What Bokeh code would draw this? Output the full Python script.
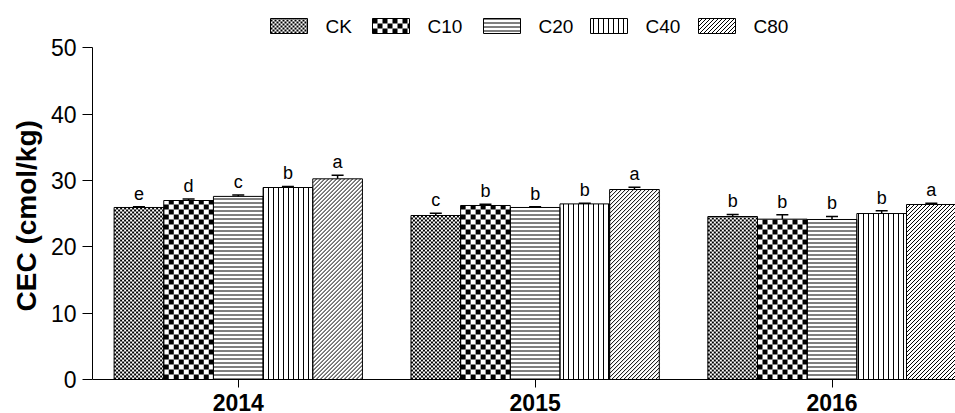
import math
from bokeh.plotting import figure
from bokeh.models import (ColumnDataSource, Range1d, FixedTicker, Whisker, TeeHead, Title)
from bokeh.core.properties import value
from bokeh.embed import file_html
from bokeh.resources import INLINE

years = ["2014", "2015", "2016"]
treatments = ["CK", "C10", "C20", "C40", "C80"]

ck_mean = [25.93, 24.72, 24.57]
c10_mean = [26.98, 26.23, 24.17]
c20_mean = [27.60, 25.93, 24.12]
c40_mean = [28.94, 26.47, 25.02]
c80_mean = [30.25, 28.64, 26.38]

ck_err = [0.10, 0.35, 0.30]
c10_err = [0.22, 0.20, 0.65]
c20_err = [0.20, 0.10, 0.45]
c40_err = [0.16, 0.10, 0.41]
c80_err = [0.55, 0.35, 0.20]

ck_sig = ["e", "c", "b"]
c10_sig = ["d", "b", "b"]
c20_sig = ["c", "b", "b"]
c40_sig = ["b", "b", "b"]
c80_sig = ["a", "a", "a"]

y_ticks = [0, 10, 20, 30, 40, 50]

means = [ck_mean, c10_mean, c20_mean, c40_mean, c80_mean]
errs = [ck_err, c10_err, c20_err, c40_err, c80_err]
sigs = [ck_sig, c10_sig, c20_sig, c40_sig, c80_sig]

FONT = "Liberation Sans"
BAR_W = 0.1673

# ---- layout (pixels) ----
W, H = 955, 413
FRAME_L = 92          # frame left edge
ZERO_PX = 379         # screen row of y = 0
Y_PX = 6.634          # pixels per y unit
X0 = -0.491           # x range start
X1 = 2.416            # x range end
X_PX = (W - FRAME_L) / (X1 - X0)

# legend layout (pixels)
LEG_LEFT = [270, 372, 483, 590, 698]
LEG_SW_W, LEG_TOP, LEG_BOT, LEG_GAP = 37, 18, 33, 18


def px_x(px):
    return X0 + (px - FRAME_L) / X_PX


def px_y(py):
    return (ZERO_PX - py) / Y_PX


def checker(rects, cell_px):
    cw, ch = cell_px / X_PX, cell_px / Y_PX
    L, R, B, T = [], [], [], []
    for (x0, x1, y0, y1) in rects:
        nx = int(math.ceil((x1 - x0) / cw - 1e-9))
        ny = int(math.ceil((y1 - y0) / ch - 1e-9))
        for j in range(ny):
            for i in range(nx):
                if (i + j) % 2 == 0:
                    L.append(x0 + i * cw)
                    R.append(min(x0 + (i + 1) * cw, x1))
                    B.append(y0 + j * ch)
                    T.append(min(y0 + (j + 1) * ch, y1))
    return dict(left=L, right=R, bottom=B, top=T)


def diagonals(rects, step_px):
    xs0, ys0, xs1, ys1 = [], [], [], []
    for (x0, x1, y0, y1) in rects:
        wpx = (x1 - x0) * X_PX
        hpx = (y1 - y0) * Y_PX
        c = -hpx
        while c < wpx:
            ua, ub = max(0.0, c), min(wpx, c + hpx)
            if ub > ua:
                xs0.append(x0 + ua / X_PX)
                ys0.append(y0 + (ua - c) / Y_PX)
                xs1.append(x0 + ub / X_PX)
                ys1.append(y0 + (ub - c) / Y_PX)
            c += step_px
    return dict(x0=xs0, y0=ys0, x1=xs1, y1=ys1)


p = figure(width=W, height=H, x_range=Range1d(X0, X1),
           y_range=Range1d(-(H - ZERO_PX) / Y_PX, ZERO_PX / Y_PX),
           output_backend="svg", toolbar_location=None,
           min_border_left=FRAME_L, min_border_right=0, min_border_top=0, min_border_bottom=0)
p.outline_line_color = None
p.xgrid.visible = False
p.ygrid.visible = False
p.background_fill_color = "white"

line_hatch = {2: dict(hatch_pattern="horizontal_line", hatch_scale=4, hatch_weight=1),
              3: dict(hatch_pattern="vertical_line", hatch_scale=5, hatch_weight=1)}

for i, name in enumerate(treatments):
    xs = [g + (i - 2) * BAR_W for g in range(len(years))]
    top = means[i]
    upper = [m + e for m, e in zip(means[i], errs[i])]
    bar_rects = [(x - BAR_W / 2, x + BAR_W / 2, 0.0, t) for x, t in zip(xs, top)]
    sw = (px_x(LEG_LEFT[i]), px_x(LEG_LEFT[i] + LEG_SW_W), px_y(LEG_BOT), px_y(LEG_TOP))
    rects = bar_rects + [sw]

    if i in (0, 1):
        p.quad(source=ColumnDataSource(checker(rects, 2 if i == 0 else 5)),
               left="left", right="right", bottom="bottom", top="top",
               fill_color="black", line_color=None)
    elif i == 4:
        p.segment(source=ColumnDataSource(diagonals(rects, 4)),
                  x0="x0", y0="y0", x1="x1", y1="y1", line_color="black", line_width=1)

    hatch = line_hatch.get(i, {})
    src = ColumnDataSource(dict(x=xs, top=top, upper=upper, lower=top,
                                ty=[u + 2.0 for u in upper], sig=sigs[i]))
    p.vbar(x="x", top="top", bottom=0, width=BAR_W, source=src,
           fill_color=None, line_color="black", line_width=1,
           hatch_color="black", **hatch)
    p.quad(left=[sw[0]], right=[sw[1]], bottom=[sw[2]], top=[sw[3]],
           fill_color=None, line_color="black", line_width=1, hatch_color="black", **hatch)
    p.text(x=[px_x(LEG_LEFT[i] + LEG_SW_W + LEG_GAP)], y=[px_y((LEG_TOP + LEG_BOT) / 2)],
           text=[name], text_align="left", text_baseline="middle",
           text_font=value(FONT), text_font_size="19px", text_color="black")

    w = Whisker(base="x", upper="upper", lower="lower", source=src,
                line_color="black", line_width=1.5,
                upper_head=TeeHead(size=12, line_color="black", line_width=1.5),
                lower_head=None)
    p.add_layout(w)
    p.text(x="x", y="ty", text="sig", source=src, text_align="center",
           text_baseline="middle", text_font=value(FONT), text_font_size="18px",
           text_color="black")

p.xaxis.fixed_location = 0
p.xaxis.ticker = FixedTicker(ticks=[0, 1, 2])
p.xaxis.major_label_overrides = {0: years[0], 1: years[1], 2: years[2]}
p.xaxis.major_label_text_font = FONT
p.xaxis.major_label_text_font_size = "23px"
p.xaxis.major_label_text_font_style = "bold"
p.xaxis.major_label_text_color = "black"
p.xaxis.major_tick_out = 8
p.xaxis.major_tick_in = 0
p.xaxis.minor_tick_line_color = None
p.xaxis.major_label_standoff = 6
p.xaxis.axis_line_color = "black"
p.xaxis.major_tick_line_color = "black"

p.yaxis.ticker = FixedTicker(ticks=y_ticks)
p.yaxis.bounds = (0, 50)
p.yaxis.major_label_text_font = FONT
p.yaxis.major_label_text_font_size = "23px"
p.yaxis.major_label_text_color = "black"
p.yaxis.major_tick_out = 10
p.yaxis.major_tick_in = 0
p.yaxis.minor_tick_line_color = None
p.yaxis.major_label_standoff = 6
p.yaxis.axis_line_color = "black"
p.yaxis.major_tick_line_color = "black"

ylab = Title(text="CEC (cmol/kg)", align="left", offset=102, vertical_align="bottom",
             standoff=12, text_font=FONT, text_font_size="28px", text_font_style="bold",
             text_color="black")
p.add_layout(ylab, "left")

open("out.html", "w").write(file_html(p, INLINE))
